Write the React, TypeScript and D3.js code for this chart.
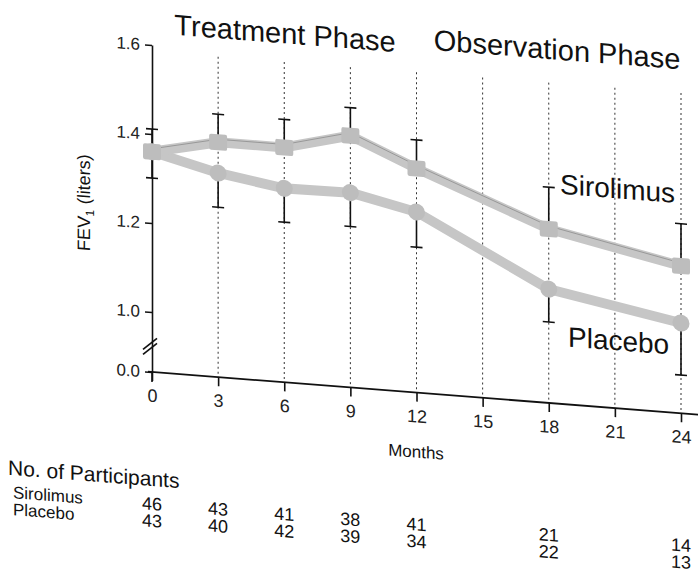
import { useEffect, useRef } from 'react';
import * as d3 from 'd3';

// values (liters), at the months that carry markers
const months = [0, 3, 6, 9, 12, 18, 24];
const sirolimusMean = [1.36, 1.393, 1.393, 1.431, 1.369, 1.256, 1.196];
const sirolimusUpper = [1.411, 1.456, 1.456, 1.494, 1.433, 1.35, 1.291];
const placeboMean = [1.36, 1.324, 1.301, 1.303, 1.271, 1.121, 1.068];
const placeboLower = [1.301, 1.247, 1.225, 1.227, 1.192, 1.047, 0.951];

const monthTicks = [0, 3, 6, 9, 12, 15, 18, 21, 24];
const fevTicks = [1.6, 1.4, 1.2, 1.0, 0.0];

const sirolimusCounts = [46, 43, 41, 38, 41, 21, 14];
const placeboCounts = [43, 40, 42, 39, 34, 22, 13];

const W = 698;
const H = 571;
const SKEW = 0.078; // the scan is sheared: things drift down to the right
const X0 = 152;
const FONT = '"Liberation Sans", Arial, Helvetica, sans-serif';

export default function App() {
  const svgRef = useRef<SVGSVGElement>(null);

  useEffect(() => {
    if (!svgRef.current) return;
    const svg = d3.select(svgRef.current);
    svg.selectAll('*').remove();

    const x = d3.scaleLinear().domain([0, 24]).range([152, 681]);
    // broken axis: 0.0 sits just under the 0.9 level
    const y = d3.scaleLinear().domain([0, 0.9, 1.6]).range([372, 356.5, 45]);

    const g = svg.append('g')
      .attr('transform', `matrix(1,${SKEW},0,1,0,${-SKEW * X0})`)
      .style('font-family', FONT)
      .attr('fill', '#111');

    // dotted month guides
    g.selectAll('line.guide')
      .data(monthTicks.filter(m => m > 0))
      .join('line')
      .attr('class', 'guide')
      .attr('x1', d => x(d)).attr('x2', d => x(d))
      .attr('y1', y(1.585)).attr('y2', y(0))
      .attr('stroke', '#333')
      .attr('stroke-width', 1)
      .attr('stroke-dasharray', '2,3');

    // y axis
    const yAxis = g.append('g')
      .attr('transform', `translate(${x(0)},0)`)
      .call(d3.axisLeft(y).tickValues(fevTicks).tickSize(7).tickSizeOuter(0).tickPadding(5).tickFormat(d3.format('.1f')));
    yAxis.select('.domain').attr('stroke', '#111').attr('stroke-width', 1.6);
    yAxis.selectAll('.tick line').attr('stroke', '#111').attr('stroke-width', 1.4);
    yAxis.selectAll('.tick text').attr('fill', '#222').style('font-size', '17px').style('font-family', FONT);
    g.append('line')
      .attr('x1', x(0)).attr('x2', x(0)).attr('y1', y(0)).attr('y2', y(0) + 10)
      .attr('stroke', '#111').attr('stroke-width', 1.6);

    // axis break marks
    [0, 5].forEach(off => {
      g.append('line')
        .attr('x1', x(0) - 9).attr('y1', 355 - off)
        .attr('x2', x(0) + 5).attr('y2', 343 - off)
        .attr('stroke', '#111').attr('stroke-width', 1.6);
    });

    // x axis
    const xAxis = g.append('g')
      .attr('transform', `translate(0,${y(0)})`)
      .call(d3.axisBottom(x).tickValues(monthTicks).tickSize(9).tickSizeOuter(0).tickPadding(8));
    xAxis.select('.domain').remove();
    xAxis.selectAll('.tick line').attr('stroke', '#111').attr('stroke-width', 1.6);
    xAxis.selectAll('.tick text').attr('fill', '#222').style('font-size', '18px').style('font-family', FONT);
    g.append('line')
      .attr('x1', x(0) - 4).attr('x2', 705).attr('y1', y(0)).attr('y2', y(0))
      .attr('stroke', '#111').attr('stroke-width', 1.8);

    // series bands
    const line = d3.line<number>()
      .x((_, i) => x(months[i]))
      .y(d => y(d));

    g.append('path').datum(placeboMean)
      .attr('fill', 'none').attr('stroke', '#c6c6c6').attr('stroke-width', 10)
      .attr('stroke-linejoin', 'round').attr('d', line);
    g.append('path').datum(sirolimusMean)
      .attr('fill', 'none').attr('stroke', '#c6c6c6').attr('stroke-width', 10)
      .attr('stroke-linejoin', 'round').attr('d', line);
    g.append('path').datum(sirolimusMean)
      .attr('fill', 'none').attr('stroke', '#8e8e8e').attr('stroke-width', 0.8)
      .attr('transform', 'translate(0,-3)').attr('d', line);

    // error bars: sirolimus upward, placebo downward
    const bars = [
      ...months.map((m, i) => ({ m, from: sirolimusMean[i], to: sirolimusUpper[i] })),
      ...months.map((m, i) => ({ m, from: placeboMean[i], to: placeboLower[i] })),
    ];
    g.selectAll('line.stem').data(bars).join('line')
      .attr('class', 'stem')
      .attr('x1', d => x(d.m)).attr('x2', d => x(d.m))
      .attr('y1', d => y(d.from)).attr('y2', d => y(d.to))
      .attr('stroke', '#111').attr('stroke-width', 1.6);
    g.selectAll('line.cap').data(bars).join('line')
      .attr('class', 'cap')
      .attr('x1', d => x(d.m) - 6).attr('x2', d => x(d.m) + 6)
      .attr('y1', d => y(d.to)).attr('y2', d => y(d.to))
      .attr('stroke', '#111').attr('stroke-width', 1.6);

    // markers
    g.selectAll('circle.pl').data(placeboMean).join('circle')
      .attr('class', 'pl')
      .attr('cx', (_, i) => x(months[i])).attr('cy', d => y(d))
      .attr('r', 8.5).attr('fill', '#bdbdbd');
    g.selectAll('rect.si').data(sirolimusMean).join('rect')
      .attr('class', 'si')
      .attr('x', (_, i) => x(months[i]) - 9).attr('y', d => y(d) - 8)
      .attr('width', 18).attr('height', 16).attr('rx', 2)
      .attr('fill', '#bdbdbd');

    // phase titles and series names
    g.append('text').attr('x', 285).attr('y', 33).attr('text-anchor', 'middle')
      .style('font-size', '29px').text('Treatment Phase');
    g.append('text').attr('x', 557).attr('y', 28).attr('text-anchor', 'middle')
      .style('font-size', '29px').text('Observation Phase');
    g.append('text').attr('x', 560).attr('y', 162)
      .style('font-size', '28px').text('Sirolimus');
    g.append('text').attr('x', 568).attr('y', 314)
      .style('font-size', '28px').text('Placebo');

    // y label with subscript
    const yl = g.append('text')
      .attr('transform', 'translate(90,208) rotate(-90)')
      .attr('text-anchor', 'middle')
      .style('font-size', '18px');
    yl.append('tspan').text('FEV');
    yl.append('tspan').attr('dy', 4).style('font-size', '12px').text('1');
    yl.append('tspan').attr('dy', -4).text(' (liters)');

    g.append('text').attr('x', 416).attr('y', 437).attr('text-anchor', 'middle')
      .style('font-size', '17px').text('Months');

    // participants table
    g.append('text').attr('x', 8).attr('y', 486).style('font-size', '21px').text('No. of Participants');
    g.append('text').attr('x', 13).attr('y', 509).style('font-size', '17px').text('Sirolimus');
    g.append('text').attr('x', 13).attr('y', 526).style('font-size', '17px').text('Placebo');
    g.selectAll('text.ns').data(sirolimusCounts).join('text')
      .attr('class', 'ns')
      .attr('x', (_, i) => x(months[i])).attr('y', 510)
      .attr('text-anchor', 'middle').style('font-size', '18px')
      .text(d => d);
    g.selectAll('text.np').data(placeboCounts).join('text')
      .attr('class', 'np')
      .attr('x', (_, i) => x(months[i])).attr('y', 527)
      .attr('text-anchor', 'middle').style('font-size', '18px')
      .text(d => d);
  }, []);

  return (
    <svg
      ref={svgRef}
      width={W}
      height={H}
      style={{ position: 'absolute', left: 0, top: 0, background: '#fff' }}
    />
  );
}
